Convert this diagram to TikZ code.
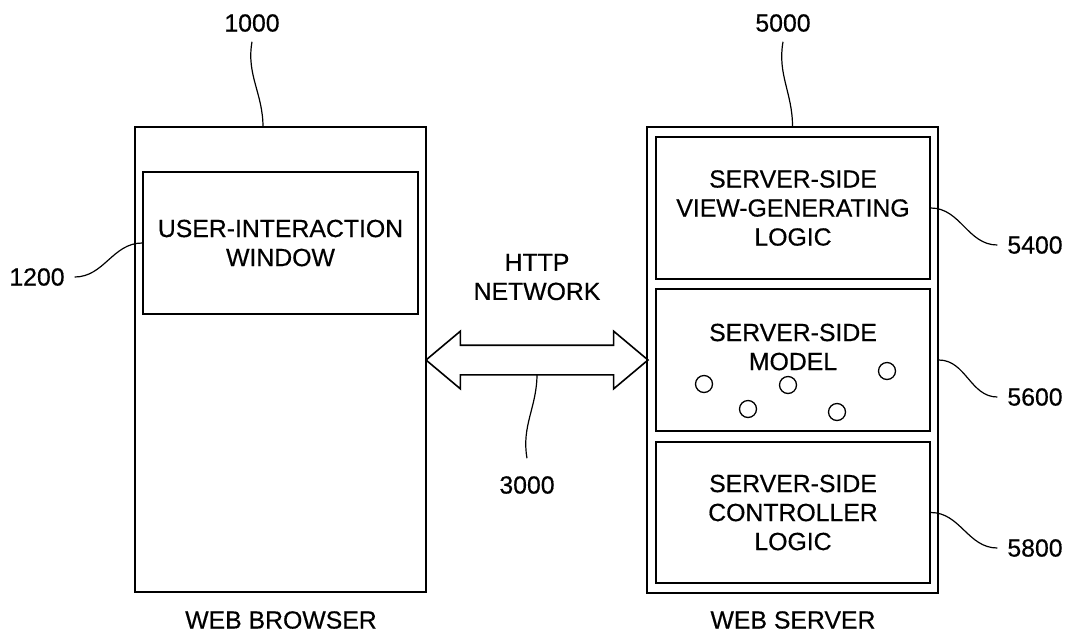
\documentclass[tikz,border=0pt]{standalone}
\usepackage{fontspec}
\setmainfont{Liberation Sans}[FakeBold=0.5]
\usetikzlibrary{shapes.arrows}

\begin{document}
\begin{tikzpicture}[
            x = 1pt, y = -1pt,
            every node/.style={font=\fontsize{24.8}{29}\selectfont, align=center, inner sep=0pt},
            box/.style={draw, line width = 1.6pt},
            lbl/.style={outer sep = 10pt},
            lead/.style={line width = 1.2pt},
            ball/.style={circle, draw, line width = 1.3pt, minimum size = 17pt},
            ]

        \useasboundingbox (0,0) rectangle (1073,633);

        % web browser
        \node[box, minimum width=291pt, minimum height=465pt] (browser) at (280.5,359.5) {};
        \node[box, minimum width=275pt, minimum height=142pt] (window) at (280.5,243) {USER-INTERACTION\\WINDOW};
        \node (browsertxt) at (281,620) {WEB BROWSER};

        % web server
        \node[box, minimum width=291pt, minimum height=466pt] (server) at (792.5,360) {};
        \node[box, minimum width=274pt, minimum height=142pt] (view) at (793,208) {SERVER-SIDE\\VIEW-GENERATING\\LOGIC};
        \node[box, minimum width=274pt, minimum height=142pt] (model) at (793,360) {};
        \node (modeltxt) at (793,347) {SERVER-SIDE\\MODEL};
        \node[box, minimum width=274pt, minimum height=141pt] (ctrl) at (793,512.5) {SERVER-SIDE\\CONTROLLER\\LOGIC};
        \node (servertxt) at (793,620) {WEB SERVER};

        \foreach \x/\y in {704/384, 748/409, 788/385, 837/412, 887/371}
            \node[ball] (b\x) at (\x,\y) {};

        % http network
        \node[box, double arrow, double arrow tip angle=80, double arrow head extend=14pt,
              minimum height=222pt, text height=28pt, text depth=0pt] (net) at (537,360) {};
        \node (http) at (537,277) {HTTP\\NETWORK};

        % reference numerals
        \node[lbl] (l1000) at (252,23) {1000};
        \node[lbl] (l5000) at (783,23) {5000};
        \node[lbl] (l1200) at (37,277) {1200};
        \node[lbl] (l3000) at (527,485) {3000};
        \node[lbl] (l5400) at (1035,245) {5400};
        \node[lbl] (l5600) at (1035,397) {5600};
        \node[lbl] (l5800) at (1035,548) {5800};

        \coordinate (p1000) at (263,127);

        \draw[lead] (l1000.south) to[out=260, in=90] (p1000);
        \draw[lead] (l5000.south) to[out=260, in=90] (server.north);
        \draw[lead] (l1200.east) to[out=0, in=180] (window.west);
        \draw[lead] ([yshift=8pt]l3000.north) to[out=100, in=270] ([yshift=-14pt]net.center);
        \draw[lead] (view.east) to[out=0, in=180] (l5400.west);
        \draw[lead] (server.east) to[out=0, in=180] (l5600.west);
        \draw[lead] (ctrl.east) to[out=0, in=180] (l5800.west);
    \end{tikzpicture}
\end{document}
